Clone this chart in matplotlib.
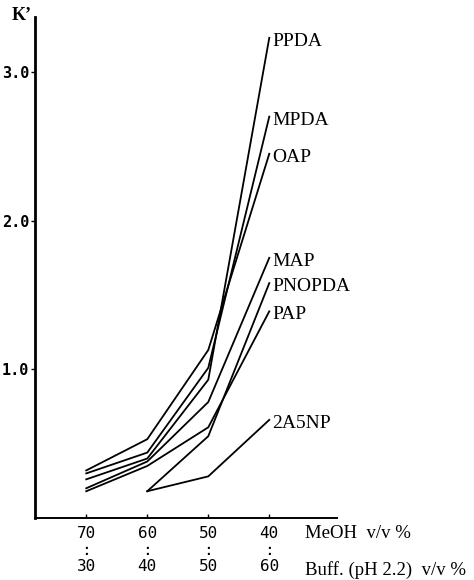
import matplotlib
matplotlib.use("Agg")
import matplotlib.pyplot as plt

# MeOH / buffer composition (v/v %)
meoh = [70, 60, 50, 40]
buff = [30, 40, 50, 60]

# capacity factor K' for each compound (None = not measured)
ppda = [0.26, 0.40, 0.93, 3.23]
mpda = [0.30, 0.44, 1.01, 2.70]
oap = [0.32, 0.53, 1.13, 2.45]
map_ = [0.20, 0.38, 0.78, 1.75]
pnopda = [None, 0.18, 0.55, 1.58]
pap = [0.18, 0.35, 0.61, 1.39]
a5np = [None, 0.18, 0.28, 0.66]

series = [("PPDA", ppda), ("MPDA", mpda), ("OAP", oap), ("MAP", map_),
          ("PNOPDA", pnopda), ("PAP", pap), ("2A5NP", a5np)]

serif = "Liberation Serif"
mono = "DejaVu Sans Mono"

fig = plt.figure(figsize=(4.74, 5.80), dpi=100)
ax = fig.add_axes([35 / 474, 62 / 580, 302 / 474, 501 / 580])

for name, vals in series:
    xs = [m for m, v in zip(meoh, vals) if v is not None]
    ys = [v for v in vals if v is not None]
    ax.plot(xs, ys, color="black", lw=1.3, solid_joinstyle="miter")
    ax.annotate(name, (xs[-1], ys[-1]), xytext=(2, -2.5), textcoords="offset points",
                ha="left", va="center", fontsize=14, family=serif)

ax.set_xlim(78.4, 28.9)
ax.set_ylim(0, 3.37)

ax.spines["top"].set_visible(False)
ax.spines["right"].set_visible(False)
ax.spines["left"].set_linewidth(2.0)
ax.spines["bottom"].set_linewidth(1.4)

ax.set_yticks([1.0, 2.0, 3.0])
ax.set_yticklabels(["1.0", "2.0", "3.0"], family=mono, fontsize=11, fontweight="bold")
ax.tick_params(axis="y", direction="out", length=3, width=1, pad=1)

ax.set_xticks(meoh)
ax.set_xticklabels([f"{m}\n:\n{b}" for m, b in zip(meoh, buff)],
                   family=mono, fontsize=11.5, linespacing=1.1)
ax.tick_params(axis="x", direction="in", length=3, width=1, pad=6)

fig.text(12 / 474, 1 - 16 / 580, "K’", family=serif, fontsize=13, fontweight="bold",
         ha="left", va="center")
fig.text(305 / 474, 1 - 533 / 580, "MeOH  v/v %", family=serif, fontsize=13.5,
         ha="left", va="center")
fig.text(305 / 474, 1 - 570 / 580, "Buff. (pH 2.2)  v/v %", family=serif, fontsize=13.5,
         ha="left", va="center")

fig.savefig("out.png", dpi=100)
